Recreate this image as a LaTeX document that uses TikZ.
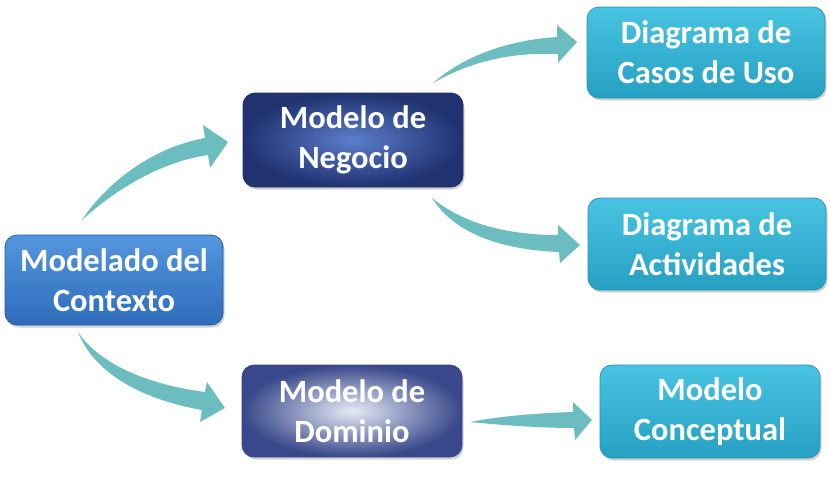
\documentclass[tikz,border=0pt]{standalone}
\usepackage{fontspec}
\setmainfont{Carlito}
\usetikzlibrary{shadows}
\definecolor{arrowteal}{RGB}{108,189,191}
\definecolor{ctxtop}{RGB}{84,150,222}
\definecolor{ctxbot}{RGB}{46,108,186}
\definecolor{ctxbor}{RGB}{40,92,160}
\definecolor{navyout}{RGB}{32,50,112}
\definecolor{navyin}{RGB}{92,126,204}
\definecolor{domout}{RGB}{56,72,138}
\definecolor{domin}{RGB}{230,234,246}
\definecolor{cyantop}{RGB}{72,196,226}
\definecolor{cyanbot}{RGB}{38,160,194}
\definecolor{cyanbor}{RGB}{40,150,182}
\tikzset{
  box/.style={rounded corners=12pt, align=center, text=white,
    font=\fontsize{32.5}{40}\selectfont\bfseries, inner sep=0pt,
    drop shadow={shadow xshift=1.5pt, shadow yshift=-2.5pt, opacity=0.35}},
  ctxbox/.style={box, top color=ctxtop, bottom color=ctxbot, draw=ctxbor, line width=0.8pt},
  negbox/.style={box, inner color=navyin, outer color=navyout, draw=navyout, line width=0.8pt},
  dombox/.style={box, inner color=domin, outer color=domout, draw=domout, line width=0.8pt},
  cybox/.style={box, top color=cyantop, bottom color=cyanbot, draw=cyanbor, line width=0.8pt},
  fatarrow/.style={fill=arrowteal, draw=none}
}
\begin{document}
\begin{tikzpicture}[x=1pt,y=-1pt]
\useasboundingbox (0,0) rectangle (830,479);
\fill[white] (0,0) rectangle (830,479);
% boxes
\node[ctxbox, minimum width=218pt, minimum height=90pt] (ctx) at (114,280) {Modelado del\\Contexto};
\node[negbox, minimum width=220pt, minimum height=94pt] (neg) at (353,140) {Modelo de\\Negocio};
\node[dombox, minimum width=220pt, minimum height=92pt] (dom) at (352,411) {Modelo de\\Dominio};
\node[cybox, minimum width=238pt, minimum height=91pt] (cas) at (706,52.5) {Diagrama de\\Casos de Uso};
\node[cybox, minimum width=238pt, minimum height=92pt] (act) at (707,244) {Diagrama de\\Actividades};
\node[cybox, minimum width=220pt, minimum height=93pt] (con) at (710,411.5) {Modelo\\Conceptual};
% arrows
\fill[fatarrow] (82,220) .. controls (105,185) and (150,148) .. (205,138) -- (203,125) -- (228,142) -- (210,168) -- (208,155) .. controls (160,162) and (115,190) .. (82,220) -- cycle;
\fill[fatarrow] (433,83) .. controls (465,55) and (510,40) .. (557,37) -- (557,25) -- (577,42) -- (558,63) -- (558,54) .. controls (510,52) and (470,62) .. (433,83) -- cycle;
\fill[fatarrow] (432,198) .. controls (465,225) and (510,235) .. (558,235) -- (558,225) -- (580,245) -- (560,263) -- (559,252) .. controls (505,250) and (455,235) .. (432,198) -- cycle;
\fill[fatarrow] (78,332) .. controls (100,365) and (150,385) .. (205,392) -- (207,382) -- (225,408) -- (200,422) -- (202,410) .. controls (145,400) and (95,375) .. (78,332) -- cycle;
\fill[fatarrow] (470,422) .. controls (500,416) and (540,413) .. (573,412) -- (573,402) -- (592,420) -- (575,440) -- (574,428) .. controls (540,428) and (500,425) .. (470,422) -- cycle;
\end{tikzpicture}
\end{document}
